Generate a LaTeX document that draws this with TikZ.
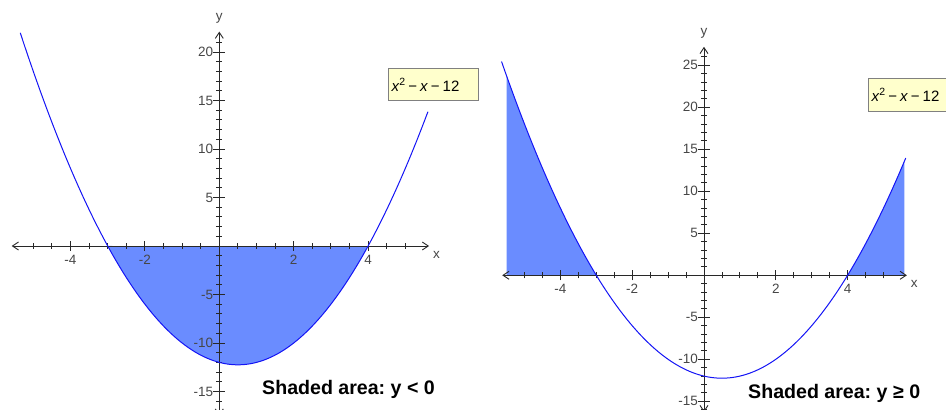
\documentclass[tikz,border=0pt]{standalone}
\usepackage{fontspec}
\setmainfont{Liberation Sans}
\usetikzlibrary{arrows.meta}
\definecolor{areablue}{RGB}{106,140,255}
\definecolor{curveblue}{RGB}{20,20,245}
\definecolor{boxyellow}{RGB}{255,255,204}
\definecolor{axisgray}{RGB}{40,40,40}
\definecolor{labelgray}{RGB}{70,70,70}

\begin{document}
\begin{tikzpicture}[x=1pt,y=1pt,
   axis/.style={axisgray,line width=0.9pt,
     {Straight Barb[length=6pt,width=8pt]}-{Straight Barb[length=6pt,width=8pt]}},
   tick/.style={axisgray,line width=0.9pt},
   ticklabel/.style={labelgray,inner sep=0pt,font=\fontsize{13.5}{15}\selectfont},
   axislabel/.style={labelgray,inner sep=0pt,font=\fontsize{13.5}{15}\selectfont},
   curve/.style={curveblue,line width=1pt},
   area/.style={fill=areablue},
   legendbox/.style={draw=gray,line width=1pt,fill=boxyellow,anchor=north west,
     text width=84pt,align=left,inner xsep=3pt,inner ysep=0pt,minimum height=32.5pt,
     font=\fontsize{15}{17}\selectfont},
   caption/.style={anchor=base west,inner sep=0pt,
     font=\fontsize{19.6}{22}\selectfont\bfseries\frenchspacing}]
  \useasboundingbox (0,0) rectangle (946,410);
  \clip (0,0) rectangle (946,410);

  % left graph: y < 0
  \begin{scope}[shift={(219.3,164)},x=37.2pt,y=9.7pt]
    \fill[area] plot[domain=-3:4,samples=80] (\x,{\x*\x-\x-12}) -- cycle;
    \coordinate (xminA) at (-5.58,0);
    \coordinate (xmaxA) at (5.64,0);
    \coordinate (yminA) at (0,-17.5);
    \coordinate (ymaxA) at (0,22.1);
    \draw[axis] (xminA) -- (xmaxA);
    \draw[axis] (yminA) -- (ymaxA);
    \foreach \tk in {-5,-4.5,...,5} \draw[tick] (\tk,0) +(0,-3pt) -- +(0,3pt);
    \foreach \tk in {-4,-2,2,4} {
      \draw[tick] (\tk,0) +(0,-5pt) -- +(0,5pt);
      \node[ticklabel,yshift=-13.7pt] (xlA\tk) at (\tk,0) {\tk};
    }
    \foreach \tk in {-16,...,21} \draw[tick] (0,\tk) +(-3pt,0) -- +(3pt,0);
    \foreach \tk in {-15,-10,-5,5,10,15,20} {
      \draw[tick] (0,\tk) +(-6pt,0) -- +(6pt,0);
      \node[ticklabel,anchor=east,xshift=-6pt] (ylA\tk) at (0,\tk) {\tk};
    }
    \node[axislabel,xshift=7.5pt,yshift=-8.8pt] (xnameA) at (xmaxA) {x};
    \node[axislabel,yshift=13.5pt] (ynameA) at (ymaxA) {y};
    \draw[curve] plot[domain=-5.35:5.61,samples=120] (\x,{\x*\x-\x-12});
  \end{scope}

  % right graph: y >= 0
  \begin{scope}[shift={(704,134.7)},x=35.9pt,y=8.4pt]
    \fill[area] (-5.5,0) -- plot[domain=-5.5:-3,samples=40] (\x,{\x*\x-\x-12}) -- cycle;
    \fill[area] plot[domain=4:5.58,samples=40] (\x,{\x*\x-\x-12}) -- (5.58,0) -- cycle;
    \coordinate (xminB) at (-5.62,0);
    \coordinate (xmaxB) at (5.65,0);
    \coordinate (yminB) at (0,-16.3);
    \coordinate (ymaxB) at (0,27.2);
    \draw[axis] (xminB) -- (xmaxB);
    \draw[axis] (yminB) -- (ymaxB);
    \foreach \tk in {-5,-4.5,...,5} \draw[tick] (\tk,0) +(0,-3pt) -- +(0,3pt);
    \foreach \tk in {-4,-2,2,4} {
      \draw[tick] (\tk,0) +(0,-5pt) -- +(0,5pt);
      \node[ticklabel,yshift=-13.7pt] (xlB\tk) at (\tk,0) {\tk};
    }
    \foreach \tk in {-16,...,26} \draw[tick] (0,\tk) +(-3pt,0) -- +(3pt,0);
    \foreach \tk in {-15,-10,-5,5,10,15,20,25} {
      \draw[tick] (0,\tk) +(-6pt,0) -- +(6pt,0);
      \node[ticklabel,anchor=east,xshift=-6pt] (ylB\tk) at (0,\tk) {\tk};
    }
    \node[axislabel,xshift=7.3pt,yshift=-8.7pt] (xnameB) at (xmaxB) {x};
    \node[axislabel,yshift=13.7pt] (ynameB) at (ymaxB) {y};
    \draw[curve] plot[domain=-5.64:5.62,samples=120] (\x,{\x*\x-\x-12});
  \end{scope}

  % legend boxes and captions
  \node[legendbox] (legA) at (388,342)
    {\textit{x}\raisebox{6pt}{\fontsize{10.5}{10.5}\selectfont 2}\kern3pt−\kern3pt\textit{x}\kern3pt−\kern3pt12};
  \node[legendbox] (legB) at (868,331.7)
    {\textit{x}\raisebox{6pt}{\fontsize{10.5}{10.5}\selectfont 2}\kern3pt−\kern3pt\textit{x}\kern3pt−\kern3pt12};
  \node[caption] (capA) at (262,15) {Shaded area: y < 0};
  \node[caption] (capB) at (748,11) {Shaded area: y ≥ 0};
\end{tikzpicture}
\end{document}
